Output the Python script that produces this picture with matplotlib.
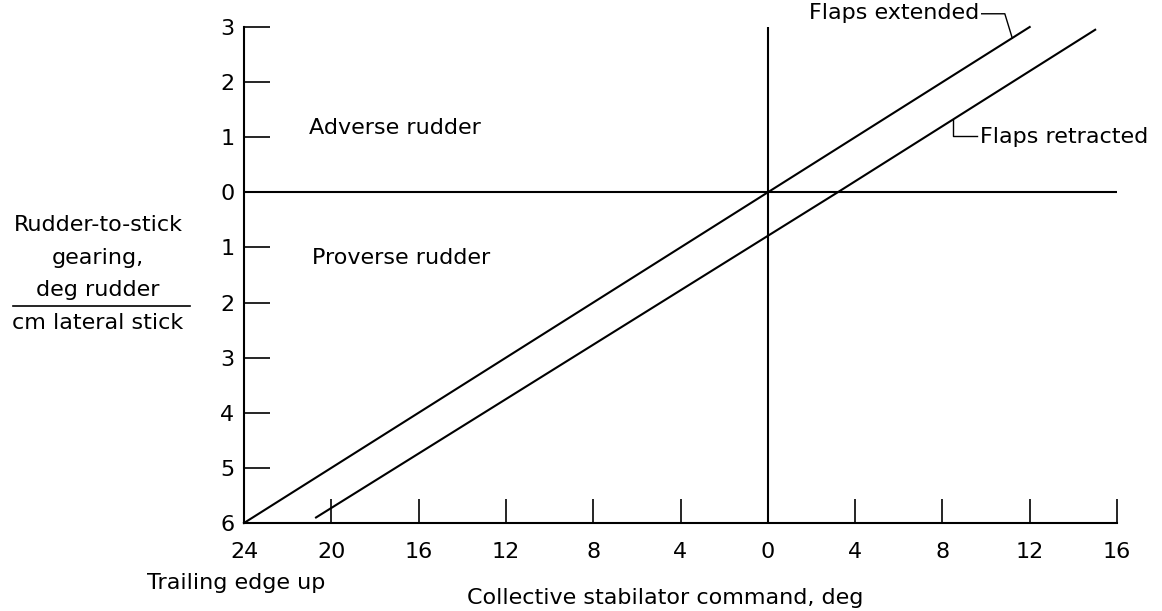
import numpy as np
import matplotlib.pyplot as plt

plt.rcParams.update({
    "font.family": "DejaVu Sans",
    "font.size": 16,
})

# data (x: collective stabilator command, deg; y: gearing)
flaps_ext_x = [-24, 0, 12]
flaps_ext_y = [-6, 0, 3]
flaps_ret_x = [-20.7, 3.2, 15]
flaps_ret_y = [-5.9, 0, 2.95]

xticks = [-24, -20, -16, -12, -8, -4, 0, 4, 8, 12, 16]
xticklabels = ["24", "20", "16", "12", "8", "4", "0", "4", "8", "12", "16"]
yticks = [3, 2, 1, 0, -1, -2, -3, -4, -5, -6]
yticklabels = ["3", "2", "1", "0", "1", "2", "3", "4", "5", "6"]

W, H = 1162, 611
fig = plt.figure(figsize=(W/100, H/100), dpi=100)

# axes placed in pixel terms
left, right, top, bottom = 244, 1117, 27, 523
ax = fig.add_axes([left/W, 1-bottom/H, (right-left)/W, (bottom-top)/H])
ax.set_xlim(-24, 16)
ax.set_ylim(-6, 3)

lw = 1.5
ax.plot(flaps_ext_x, flaps_ext_y, color="black", lw=lw, clip_on=False)
ax.plot(flaps_ret_x, flaps_ret_y, color="black", lw=lw, clip_on=False)

ax.axhline(0, color="black", lw=lw)
ax.axvline(0, color="black", lw=lw)

for s in ["top", "right"]:
    ax.spines[s].set_visible(False)
for s in ["left", "bottom"]:
    ax.spines[s].set_linewidth(lw)

ax.set_xticks(xticks)
ax.set_xticklabels(xticklabels)
ax.set_yticks(yticks)
ax.set_yticklabels(yticklabels)
ax.tick_params(axis="x", direction="in", length=17, width=1.2, pad=14)
ax.tick_params(axis="y", direction="in", length=19, width=1.2, pad=7)

# region labels
ax.text(-21.0, 1.16, "Adverse rudder", ha="left", va="center")
ax.text(-20.9, -1.2, "Proverse rudder", ha="left", va="center")

# curve labels with leaders
ax.text(9.7, 3.25, "Flaps extended", ha="right", va="center")
ax.plot([9.8, 10.86, 11.2], [3.24, 3.24, 2.8], color="black", lw=1, clip_on=False)
ax.text(9.7, 1.0, "Flaps retracted", ha="left", va="center")
ax.plot([8.5, 8.5, 9.57], [1.32, 1.03, 1.03], color="black", lw=1, clip_on=False)

# y label as a fraction block
def fx(px):
    return px / W

def fy(py):
    return 1 - py / H

cx = 98
fig.text(fx(cx), fy(225), "Rudder-to-stick", ha="center", va="center")
fig.text(fx(cx), fy(258), "gearing,", ha="center", va="center")
fig.text(fx(cx), fy(290), "deg rudder", ha="center", va="center")
fig.add_artist(plt.Line2D([fx(13), fx(190)], [fy(306), fy(306)], color="black", lw=1.2))
fig.text(fx(cx), fy(323), "cm lateral stick", ha="center", va="center")

# x labels
fig.text(fx(147), fy(583), "Trailing edge up", ha="left", va="center")
fig.text(fx(665), fy(598), "Collective stabilator command, deg", ha="center", va="center")

fig.savefig("out.png", dpi=100)
